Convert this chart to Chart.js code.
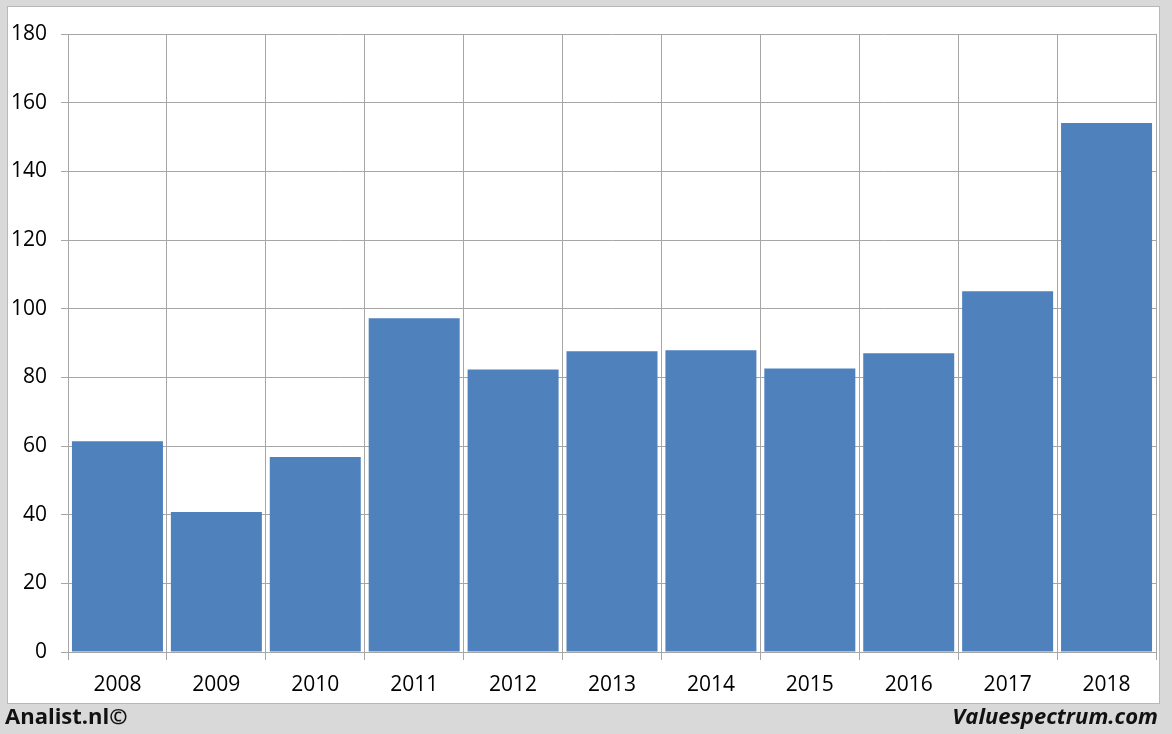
<!DOCTYPE html>
<html lang="en">
<head>
    <meta charset="UTF-8">
    <title>Valuespectrum</title>
    <script src="https://cdn.jsdelivr.net/npm/chart.js"></script>
    <style>
        html, body { margin: 0; padding: 0; }
        body { width: 1172px; height: 734px; background: #d9d9d9; position: relative; overflow: hidden; }
        #panel { position: absolute; left: 7px; top: 6px; width: 1151px; height: 696px; background: #fff; border: 1px solid #b8b8b8; }
        #wrap { position: absolute; left: 0; top: 0; width: 1172px; height: 734px; }
        .foot { position: absolute; top: 700px; font-family: 'Open Sans', sans-serif; font-weight: bold; font-size: 22px; color: #111; }
        #left { left: 5px; }
        #right { right: 14px; font-style: italic; }
    </style>
</head>
<body>
    <div id="panel"></div>
    <div id="wrap"><canvas id="chart" width="1172" height="734"></canvas></div>
    <div class="foot" id="left">Analist.nl©</div>
    <div class="foot" id="right">Valuespectrum.com</div>

    <script>
        // values
        const years = ['2008', '2009', '2010', '2011', '2012', '2013', '2014', '2015', '2016', '2017', '2018'];
        const values = [61.4, 40.8, 56.8, 97.2, 82.3, 87.6, 87.9, 82.6, 87.0, 105.1, 154.1];

        const gridColor = '#a6a6a6';
        const font = { family: 'Open Sans', size: 21 };

        new Chart(document.getElementById('chart'), {
            type: 'bar',
            data: {
                labels: years,
                datasets: [{
                    data: values,
                    backgroundColor: '#4f81bd',
                    barPercentage: 0.92,
                    categoryPercentage: 1.0
                }]
            },
            options: {
                responsive: false,
                animation: false,
                layout: { padding: { left: 0, top: 34, right: 16, bottom: 0 } },
                plugins: { legend: { display: false }, tooltip: { enabled: false } },
                scales: {
                    x: {
                        offset: true,
                        afterFit: s => { s.height = 82; },
                        grid: { offset: true, color: gridColor, tickLength: 8, drawTicks: true },
                        border: { color: gridColor },
                        ticks: { color: '#000', font: font, padding: 12 }
                    },
                    y: {
                        min: 0, max: 180,
                        afterFit: s => { s.width = 68; },
                        grid: { color: gridColor, tickLength: 7 },
                        border: { color: gridColor },
                        ticks: { stepSize: 20, color: '#000', font: font, padding: 14 }
                    }
                }
            }
        });
    </script>
</body>
</html>
